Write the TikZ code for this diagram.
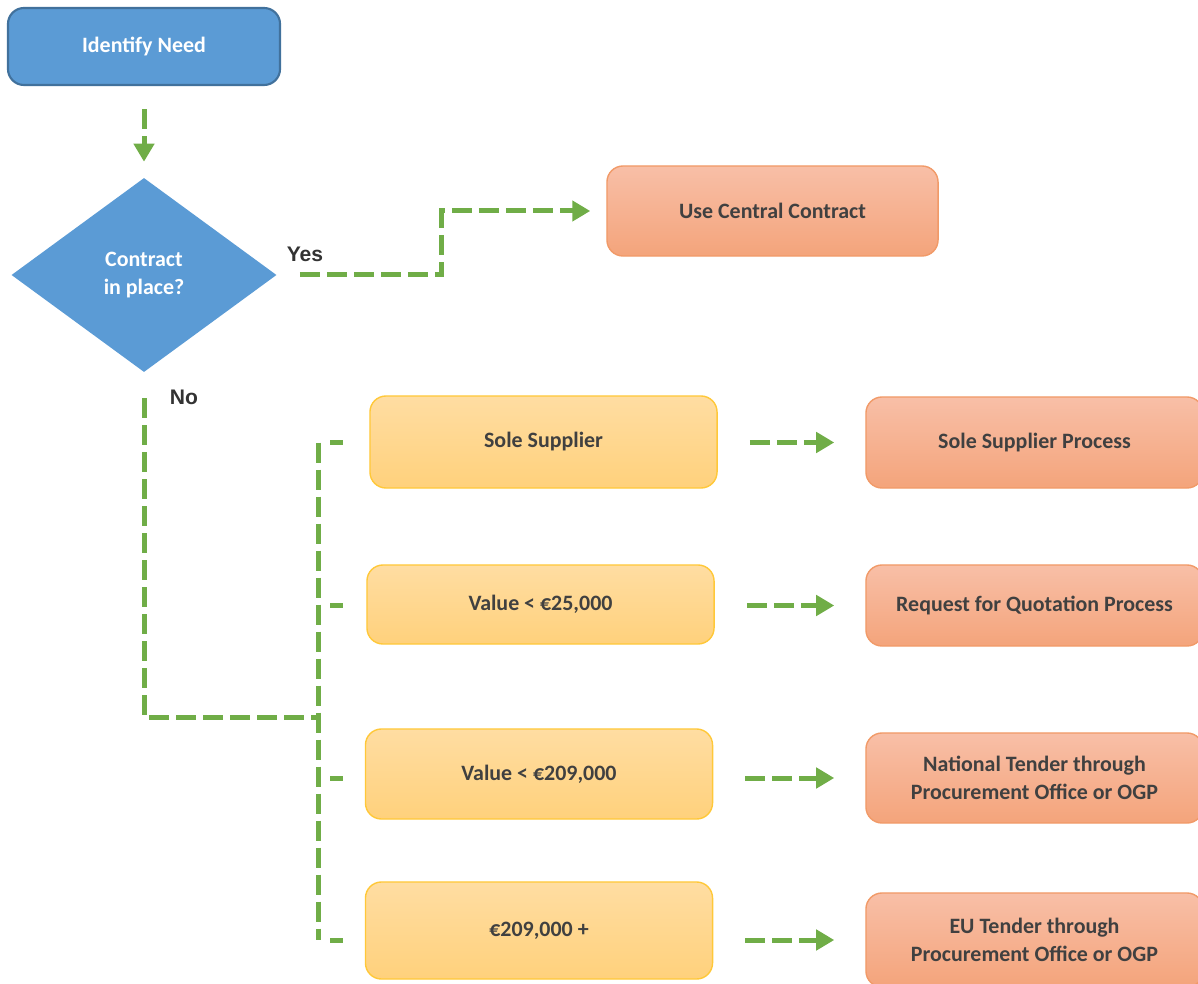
\documentclass[tikz,border=0pt]{standalone}
\usepackage{fontspec}
\setmainfont{Carlito}
\newfontfamily\yesnofont{Liberation Sans}
\usetikzlibrary{shapes.geometric, arrows.meta, calc}

\definecolor{needblue}{HTML}{5B9BD5}
\definecolor{neededge}{HTML}{41719C}
\definecolor{flowgreen}{HTML}{70AD47}
\definecolor{boxtext}{HTML}{404040}
\definecolor{yntext}{HTML}{333333}
\definecolor{ytop}{HTML}{FFDDA2}
\definecolor{ybot}{HTML}{FFD17C}
\definecolor{yedge}{HTML}{FFC839}
\definecolor{otop}{HTML}{F8BFA7}
\definecolor{obot}{HTML}{F4A47B}
\definecolor{oedge}{HTML}{F19A68}

\begin{document}
\begin{tikzpicture}[x=0.025cm, y=-0.025cm,
    every node/.style={font=\bfseries\fontsize{15.6}{19.5}\selectfont, text=boxtext, align=center},
    bluebox/.style={rectangle, rounded corners=0.4cm, fill=needblue, draw=neededge, line width=1.5pt, text=white, minimum width=6.8cm, minimum height=1.925cm},
    decision/.style={diamond, fill=needblue, text=white, inner sep=0pt, minimum width=6.625cm, minimum height=4.85cm},
    yellowbox/.style={rectangle, rounded corners=0.4cm, top color=ytop, bottom color=ybot, draw=yedge, line width=1pt, minimum width=8.675cm},
    orangebox/.style={rectangle, rounded corners=0.4cm, top color=otop, bottom color=obot, draw=oedge, line width=1pt, minimum width=8.425cm},
    yn/.style={font=\yesnofont\bfseries\fontsize{15}{18}\selectfont, text=yntext},
    flow/.style={draw=flowgreen, line width=0.125cm, dash pattern=on 0.5cm off 0.175cm},
    flowto/.style={flow, -{Triangle[length=0.45cm, width=0.5cm]}, shorten <=0.575cm, shorten >=0.425cm},
    branch/.style={draw=flowgreen, line width=0.125cm, dash pattern=on 0pt off 0.3cm on 0.325cm off 5cm}]

    \useasboundingbox (0,0) rectangle (1198,984);

    % top part
    \node[bluebox] (need) at (144,46.5) {Identify Need};
    \node[decision] (dia) at (144,275) {Contract\\in place?};
    \node[orangebox, minimum width=8.275cm, minimum height=2.25cm] (ucc) at (772.5,211) {Use Central Contract};
    \node[yn] (yes) at (305,254) {Yes};
    \node[yn] (no) at (184,397) {No};

    % value bands
    \node[yellowbox, minimum height=2.3cm] (ss) at (543.5,442) {Sole Supplier};
    \node[yellowbox, minimum height=1.975cm] (v25) at (540.5,604.5) {Value < €25,000};
    \node[yellowbox, minimum height=2.25cm] (v209) at (539,774) {Value < €209,000};
    \node[yellowbox, minimum height=2.425cm] (eup) at (539,930.5) {€209,000 +};

    % processes
    \node[orangebox, minimum height=2.275cm] (ssp) at (1034.5,442.5) {Sole Supplier Process};
    \node[orangebox, minimum height=2.025cm] (rfq) at (1034.5,605.5) {Request for Quotation Process};
    \node[orangebox, minimum height=2.25cm] (nt) at (1034.5,778) {National Tender through\\Procurement Office or OGP};
    \node[orangebox, minimum height=2.35cm] (eu) at (1034.5,940) {EU Tender through\\Procurement Office or OGP};

    \coordinate (fork) at (318,717);

    \draw[flowto, shorten >=0.4cm] (need.south) -- (dia.north);
    \draw[flowto, shorten >=0.4cm] (dia.east) -| ($(dia.east)!0.5!(ucc.west)$) |- (ucc.west);
    \draw[flow, shorten <=0.65cm] (dia.south) |- (fork);
    \draw[flow] (fork |- ssp.west) -- (fork |- eu.west);

    \foreach \a/\b in {ss/ssp, v25/rfq, v209/nt, eup/eu} {
        \draw[branch] (fork |- \b.west) -- (\a.west |- \b.west);
        \draw[flowto, shorten <=0.8cm, shorten >=0.775cm] (\b.west -| \a.east) -- (\b.west);
    }
\end{tikzpicture}
\end{document}
